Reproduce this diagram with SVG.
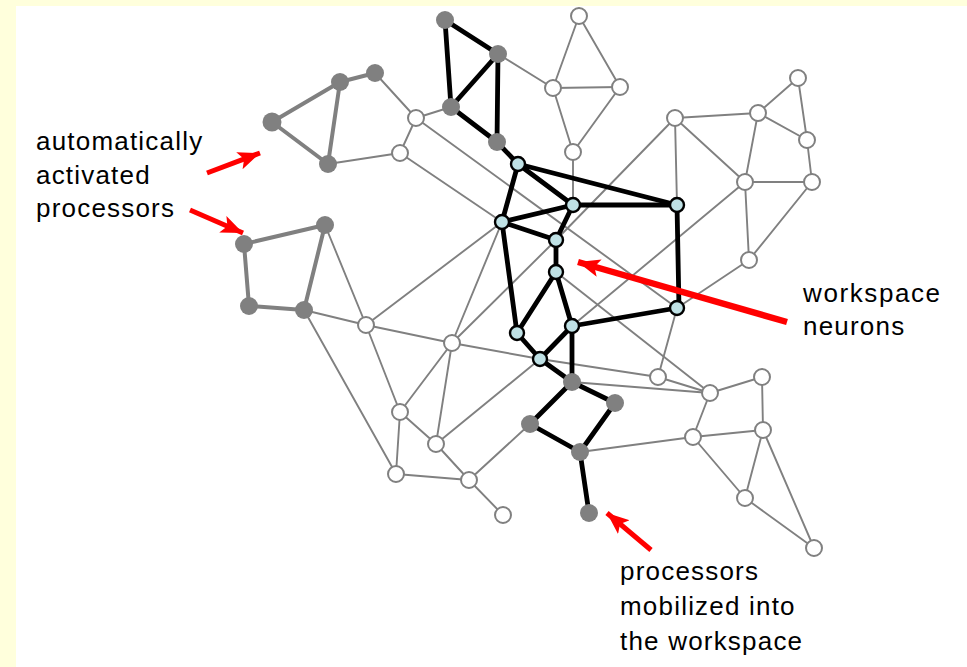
<svg xmlns="http://www.w3.org/2000/svg" width="967" height="667" viewBox="0 0 967 667">
<style>
.t{stroke:#808080;stroke-width:1.9;fill:none;stroke-linecap:round}
.g{stroke:#808080;stroke-width:4;fill:none;stroke-linecap:round}
.b{stroke:#000;stroke-width:4.8;fill:none;stroke-linecap:round}
.h{fill:#fff;stroke:#808080;stroke-width:2}
.f{fill:#808080}
.c{fill:#BFE1E5;stroke:#000;stroke-width:2.4}
.r{stroke:#f00;fill:none}
.lbl{font-family:"Liberation Sans",Arial,sans-serif;font-size:26px;fill:#000;letter-spacing:1.2px}
</style>
<defs>
<marker id="ah" markerUnits="userSpaceOnUse" markerWidth="26" markerHeight="20" refX="22" refY="9" orient="auto">
<path d="M0,0 L22,9 L0,18 L5,9 Z" fill="#f00"/>
</marker>
</defs>
<rect width="967" height="667" fill="#FFFFDC"/>
<rect x="16" y="6" width="951" height="661" fill="#fff"/>
<g id="connectors">
<g class="t">
<line x1="375" y1="73" x2="416" y2="118"/>
<line x1="416" y1="118" x2="451" y2="107"/>
<line x1="416" y1="118" x2="400" y2="153"/>
<line x1="328" y1="164" x2="400" y2="153"/>
<line x1="416" y1="118" x2="677" y2="308"/>
<line x1="400" y1="153" x2="502" y2="222"/>
<line x1="498" y1="54" x2="553" y2="88"/>
<line x1="579" y1="16" x2="553" y2="88"/>
<line x1="579" y1="16" x2="620" y2="87"/>
<line x1="553" y1="88" x2="620" y2="87"/>
<line x1="553" y1="88" x2="573" y2="152"/>
<line x1="620" y1="87" x2="573" y2="152"/>
<line x1="573" y1="152" x2="573" y2="205"/>
<line x1="675" y1="118" x2="556" y2="240"/>
<line x1="675" y1="118" x2="677" y2="205"/>
<line x1="675" y1="118" x2="758" y2="113"/>
<line x1="675" y1="118" x2="745" y2="182"/>
<line x1="758" y1="113" x2="798" y2="78"/>
<line x1="758" y1="113" x2="807" y2="140"/>
<line x1="758" y1="113" x2="745" y2="182"/>
<line x1="798" y1="78" x2="807" y2="140"/>
<line x1="807" y1="140" x2="812" y2="182"/>
<line x1="745" y1="182" x2="812" y2="182"/>
<line x1="745" y1="182" x2="749" y2="260"/>
<line x1="812" y1="182" x2="749" y2="260"/>
<line x1="745" y1="182" x2="572" y2="326"/>
<line x1="677" y1="308" x2="749" y2="260"/>
<line x1="677" y1="308" x2="658" y2="377"/>
<line x1="556" y1="272" x2="710" y2="393"/>
<line x1="540" y1="359" x2="658" y2="377"/>
<line x1="658" y1="377" x2="710" y2="393"/>
<line x1="572" y1="382" x2="710" y2="393"/>
<line x1="710" y1="393" x2="762" y2="377"/>
<line x1="710" y1="393" x2="693" y2="437"/>
<line x1="762" y1="377" x2="763" y2="430"/>
<line x1="693" y1="437" x2="763" y2="430"/>
<line x1="580" y1="452" x2="693" y2="437"/>
<line x1="693" y1="437" x2="745" y2="498"/>
<line x1="763" y1="430" x2="745" y2="498"/>
<line x1="763" y1="430" x2="814" y2="548"/>
<line x1="745" y1="498" x2="814" y2="548"/>
<line x1="325" y1="225" x2="366" y2="325"/>
<line x1="304" y1="310" x2="366" y2="325"/>
<line x1="304" y1="310" x2="396" y2="474"/>
<line x1="502" y1="222" x2="366" y2="325"/>
<line x1="502" y1="222" x2="452" y2="343"/>
<line x1="556" y1="240" x2="452" y2="343"/>
<line x1="366" y1="325" x2="452" y2="343"/>
<line x1="366" y1="325" x2="400" y2="412"/>
<line x1="452" y1="343" x2="400" y2="412"/>
<line x1="452" y1="343" x2="436" y2="444"/>
<line x1="452" y1="343" x2="540" y2="359"/>
<line x1="540" y1="359" x2="436" y2="444"/>
<line x1="400" y1="412" x2="436" y2="444"/>
<line x1="400" y1="412" x2="396" y2="474"/>
<line x1="436" y1="444" x2="469" y2="480"/>
<line x1="396" y1="474" x2="469" y2="480"/>
<line x1="469" y1="480" x2="503" y2="515"/>
<line x1="469" y1="480" x2="530" y2="424"/>
</g>
<g class="g">
<line x1="272" y1="122" x2="340" y2="82"/>
<line x1="340" y1="82" x2="375" y2="73"/>
<line x1="272" y1="122" x2="328" y2="164"/>
<line x1="340" y1="82" x2="328" y2="164"/>
<line x1="244" y1="244" x2="325" y2="225"/>
<line x1="244" y1="244" x2="249" y2="306"/>
<line x1="249" y1="306" x2="304" y2="310"/>
<line x1="304" y1="310" x2="325" y2="225"/>
</g>
<g class="b">
<line x1="445" y1="20" x2="498" y2="54"/>
<line x1="445" y1="20" x2="451" y2="107"/>
<line x1="451" y1="107" x2="498" y2="54"/>
<line x1="498" y1="54" x2="497" y2="142"/>
<line x1="451" y1="107" x2="497" y2="142"/>
<line x1="497" y1="142" x2="518" y2="164"/>
<line x1="518" y1="164" x2="573" y2="205"/>
<line x1="518" y1="164" x2="502" y2="222"/>
<line x1="518" y1="164" x2="677" y2="205"/>
<line x1="502" y1="222" x2="573" y2="205"/>
<line x1="573" y1="205" x2="677" y2="205"/>
<line x1="573" y1="205" x2="556" y2="240"/>
<line x1="502" y1="222" x2="556" y2="240"/>
<line x1="502" y1="222" x2="517" y2="333"/>
<line x1="556" y1="240" x2="556" y2="272"/>
<line x1="556" y1="272" x2="517" y2="333"/>
<line x1="556" y1="272" x2="572" y2="326"/>
<line x1="517" y1="333" x2="540" y2="359"/>
<line x1="540" y1="359" x2="572" y2="326"/>
<line x1="572" y1="326" x2="677" y2="308"/>
<line x1="677" y1="205" x2="679" y2="308"/>
<line x1="572" y1="326" x2="572" y2="382"/>
<line x1="540" y1="359" x2="572" y2="382"/>
<line x1="572" y1="382" x2="615" y2="403"/>
<line x1="572" y1="382" x2="530" y2="424"/>
<line x1="530" y1="424" x2="580" y2="452"/>
<line x1="615" y1="403" x2="580" y2="452"/>
<line x1="580" y1="452" x2="589" y2="513"/>
</g>
</g>
<g id="hollow-nodes">
<g id="h1"><circle class="h" cx="579" cy="16" r="8"/></g>
<g id="h2"><circle class="h" cx="553" cy="88" r="8"/></g>
<g id="h3"><circle class="h" cx="620" cy="87" r="8"/></g>
<g id="h4"><circle class="h" cx="573" cy="152" r="8"/></g>
<g id="h5"><circle class="h" cx="416" cy="118" r="8"/></g>
<g id="h6"><circle class="h" cx="400" cy="153" r="8"/></g>
<g id="h7"><circle class="h" cx="675" cy="118" r="8"/></g>
<g id="h8"><circle class="h" cx="758" cy="113" r="8"/></g>
<g id="h9"><circle class="h" cx="798" cy="78" r="8"/></g>
<g id="h10"><circle class="h" cx="807" cy="140" r="8"/></g>
<g id="h11"><circle class="h" cx="745" cy="182" r="8"/></g>
<g id="h12"><circle class="h" cx="812" cy="182" r="8"/></g>
<g id="h13"><circle class="h" cx="749" cy="260" r="8"/></g>
<g id="h14"><circle class="h" cx="366" cy="325" r="8"/></g>
<g id="h15"><circle class="h" cx="452" cy="343" r="8"/></g>
<g id="h16"><circle class="h" cx="400" cy="412" r="8"/></g>
<g id="h17"><circle class="h" cx="436" cy="444" r="8"/></g>
<g id="h18"><circle class="h" cx="396" cy="474" r="8"/></g>
<g id="h19"><circle class="h" cx="469" cy="480" r="8"/></g>
<g id="h20"><circle class="h" cx="503" cy="515" r="8"/></g>
<g id="h21"><circle class="h" cx="658" cy="377" r="8"/></g>
<g id="h22"><circle class="h" cx="710" cy="393" r="8"/></g>
<g id="h23"><circle class="h" cx="762" cy="377" r="8"/></g>
<g id="h24"><circle class="h" cx="693" cy="437" r="8"/></g>
<g id="h25"><circle class="h" cx="763" cy="430" r="8"/></g>
<g id="h26"><circle class="h" cx="745" cy="498" r="8"/></g>
<g id="h27"><circle class="h" cx="814" cy="548" r="8"/></g>
</g>
<g id="gray-nodes">
<g id="a1"><circle class="f" cx="272" cy="122" r="9.5"/></g>
<g id="a2"><circle class="f" cx="340" cy="82" r="9"/></g>
<g id="a3"><circle class="f" cx="375" cy="73" r="9"/></g>
<g id="a4"><circle class="f" cx="328" cy="164" r="9"/></g>
<g id="b1"><circle class="f" cx="244" cy="244" r="9"/></g>
<g id="b2"><circle class="f" cx="325" cy="225" r="9"/></g>
<g id="b3"><circle class="f" cx="249" cy="306" r="9"/></g>
<g id="b4"><circle class="f" cx="304" cy="310" r="9"/></g>
<g id="c1"><circle class="f" cx="445" cy="20" r="9"/></g>
<g id="c2"><circle class="f" cx="498" cy="54" r="9"/></g>
<g id="c3"><circle class="f" cx="451" cy="107" r="9"/></g>
<g id="c4"><circle class="f" cx="497" cy="142" r="9"/></g>
<g id="e1"><circle class="f" cx="572" cy="382" r="9"/></g>
<g id="e2"><circle class="f" cx="615" cy="403" r="9"/></g>
<g id="e3"><circle class="f" cx="530" cy="424" r="9"/></g>
<g id="e4"><circle class="f" cx="580" cy="452" r="9"/></g>
<g id="e5"><circle class="f" cx="589" cy="513" r="9"/></g>
</g>
<g id="workspace-nodes">
<g id="d1"><circle class="c" cx="518" cy="164" r="7"/></g>
<g id="d2"><circle class="c" cx="573" cy="205" r="7"/></g>
<g id="d3"><circle class="c" cx="502" cy="222" r="7"/></g>
<g id="d4"><circle class="c" cx="677" cy="205" r="7"/></g>
<g id="d5"><circle class="c" cx="556" cy="240" r="7"/></g>
<g id="d6"><circle class="c" cx="556" cy="272" r="7"/></g>
<g id="d7"><circle class="c" cx="517" cy="333" r="7"/></g>
<g id="d8"><circle class="c" cx="572" cy="326" r="7"/></g>
<g id="d9"><circle class="c" cx="540" cy="359" r="7"/></g>
<g id="d10"><circle class="c" cx="677" cy="308" r="7"/></g>
</g>
<g id="arrows">
<line class="r" stroke-width="5" x1="207" y1="173" x2="260" y2="153" marker-end="url(#ah)"/>
<line class="r" stroke-width="5" x1="190" y1="210" x2="243" y2="233" marker-end="url(#ah)"/>
<line class="r" stroke-width="6.5" x1="787" y1="322" x2="578" y2="262" marker-end="url(#ah)"/>
<line class="r" stroke-width="5" x1="651" y1="550" x2="607" y2="513" marker-end="url(#ah)"/>
</g>
<g id="labels">
<text class="lbl" x="36" y="150">automatically</text>
<text class="lbl" x="36" y="184">activated</text>
<text class="lbl" x="36" y="217">processors</text>
<text class="lbl" x="803" y="302" style="letter-spacing:1.6px">workspace</text>
<text class="lbl" x="803" y="335">neurons</text>
<text class="lbl" x="620" y="580">processors</text>
<text class="lbl" x="620" y="615">mobilized into</text>
<text class="lbl" x="620" y="650">the workspace</text>
</g>
</svg>
